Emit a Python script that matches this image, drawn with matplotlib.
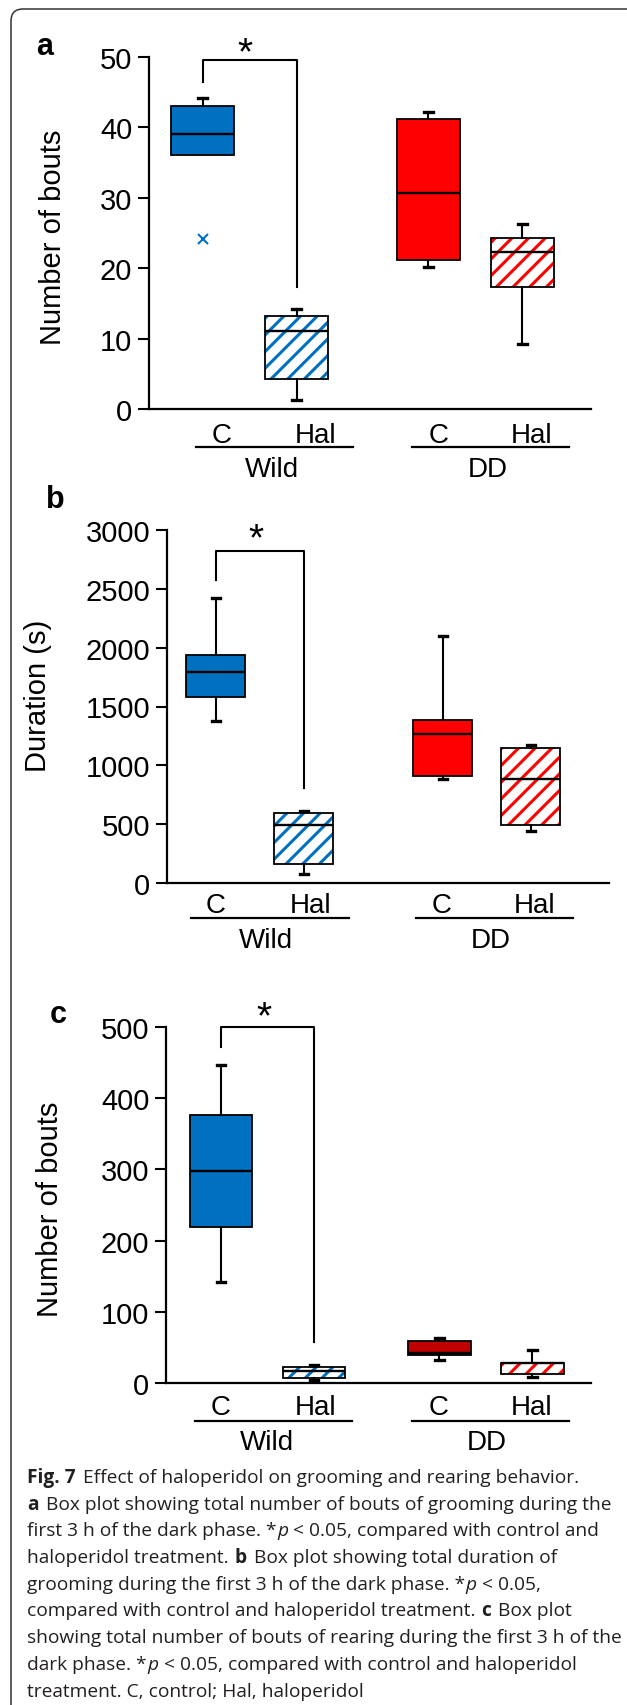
import matplotlib
matplotlib.use("Agg")
import matplotlib.pyplot as plt
from matplotlib.patches import PathPatch, FancyBboxPatch
from matplotlib.lines import Line2D
from matplotlib.transforms import IdentityTransform

# ---------------- data ----------------
groups = ["C", "Hal", "C", "Hal"]
strains = ["Wild", "DD"]

# panel a: number of grooming bouts
a_whislo = [36.1, 1.3, 20.2, 9.2]
a_q1 = [36.1, 4.2, 21.1, 17.3]
a_med = [39.0, 11.1, 30.6, 22.3]
a_q3 = [43.0, 13.2, 41.1, 24.3]
a_whishi = [44.1, 14.2, 42.1, 26.2]
a_fliers = [[24.1], [], [], []]

# panel b: grooming duration (s)
b_whislo = [1375, 76, 880, 442]
b_q1 = [1582, 161, 911, 495]
b_med = [1797, 490, 1268, 883]
b_q3 = [1936, 591, 1387, 1146]
b_whishi = [2425, 611, 2103, 1175]
b_fliers = [[], [], [], []]

# panel c: number of rearing bouts
c_whislo = [142, 4, 32, 8]
c_q1 = [219, 7, 39, 12.6]
c_med = [298, 17, 42, 28]
c_q3 = [377, 22.5, 59, 28]
c_whishi = [447, 25, 63, 46]
c_fliers = [[], [], [], []]

# significance brackets: (left leg bottom, top, right leg bottom)
a_bracket = [46.4, 49.6, 17.3]
b_bracket = [2578, 2819, 807]
c_bracket = [472, 500, 58]

BLUE = "#0070C0"
RED = "#FF0000"
DARKRED = "#C00000"

W, H = 627, 1706
plt.rcParams["font.family"] = ["Liberation Sans", "DejaVu Sans"]
plt.rcParams["hatch.linewidth"] = 2.2

fig = plt.figure(figsize=(W / 100, H / 100), dpi=100)


def fx(x):
    return x / W


def fy(y):
    return 1 - y / H


def make_panel(rect, pos, xlim, ylim, yticks, stats, colors, hatched,
               bracket, ylabel, ylabel_xy, ytick_fs=21):
    left, top, right, bottom = rect
    ax = fig.add_axes([fx(left), fy(bottom), (right - left) / W, (bottom - top) / H])
    whislo, q1, med, q3, whishi, fliers = stats
    st = []
    for i in range(len(pos)):
        st.append(dict(whislo=whislo[i], q1=q1[i], med=med[i], q3=q3[i],
                       whishi=whishi[i], fliers=fliers[i]))
    art = ax.bxp(st, positions=pos, widths=0.67, patch_artist=True,
                 showfliers=True, capwidths=0.09,
                 boxprops=dict(linewidth=1.3, edgecolor="black"),
                 whiskerprops=dict(linewidth=1.5, color="black"),
                 capprops=dict(linewidth=2.4, color="black"),
                 medianprops=dict(linewidth=1.7, color="black"),
                 flierprops=dict(marker="x", markersize=7, markeredgewidth=1.5))
    for i, b in enumerate(art["boxes"]):
        if hatched[i]:
            b.set_facecolor("white")
            b.set_edgecolor(colors[i])
            b.set_hatch("//")
            b.set_linewidth(0)
            ov = PathPatch(b.get_path(), facecolor="none", edgecolor="black",
                           linewidth=1.3, zorder=b.get_zorder() + 0.1)
            ax.add_patch(ov)
        else:
            b.set_facecolor(colors[i])
            b.set_edgecolor("black")
        # hide lower whisker/cap when it coincides with the box
        if whislo[i] >= q1[i]:
            art["caps"][2 * i].set_visible(False)
            art["whiskers"][2 * i].set_visible(False)
    for i, fl in enumerate(art["fliers"]):
        fl.set_markeredgecolor(colors[i])
    for m in art["medians"]:
        m.set_zorder(5)
    ax.set_xlim(*xlim)
    ax.set_ylim(*ylim)
    ax.set_yticks(yticks)
    ax.set_yticklabels([str(t) for t in yticks])
    ax.set_xticks([])
    for s in ["top", "right"]:
        ax.spines[s].set_visible(False)
    for s in ["left", "bottom"]:
        ax.spines[s].set_linewidth(1.6)
    ax.tick_params(axis="y", direction="out", length=8, width=1.5,
                   labelsize=ytick_fs, pad=4)
    ax.patch.set_alpha(0)
    # bracket
    xl, xr = pos[0], pos[1]
    ax.plot([xl, xl, xr, xr], [bracket[0], bracket[1], bracket[1], bracket[2]],
            color="black", lw=1.5, clip_on=False)
    ax.set_ylabel(ylabel, fontsize=21)
    ax.yaxis.set_label_coords(*ylabel_xy)
    return ax


ax_a = make_panel((149, 57.7, 591, 410), [1, 2, 3.4, 4.4], (0.43, 5.13), (0, 50),
                  [0, 10, 20, 30, 40, 50],
                  (a_whislo, a_q1, a_med, a_q3, a_whishi, a_fliers),
                  [BLUE, BLUE, RED, RED], [False, True, False, True],
                  a_bracket, "Number of bouts", ((67 - 149) / 442, 0.49))
ax_b = make_panel((167, 531, 609, 884), [1, 2, 3.58, 4.58], (0.448, 5.47), (0, 3000),
                  [0, 500, 1000, 1500, 2000, 2500, 3000],
                  (b_whislo, b_q1, b_med, b_q3, b_whishi, b_fliers),
                  [BLUE, BLUE, RED, RED], [False, True, False, True],
                  b_bracket, "Duration (s)", ((52 - 167) / 442, 0.533))
ax_c = make_panel((166, 1028, 591, 1384), [1, 2, 3.35, 4.35], (0.409, 4.98), (0, 500),
                  [0, 100, 200, 300, 400, 500],
                  (c_whislo, c_q1, c_med, c_q3, c_whishi, c_fliers),
                  [BLUE, BLUE, DARKRED, RED], [False, True, False, True],
                  c_bracket, "Number of bouts", ((64 - 166) / 425, 0.49))

# asterisks
for x, y in [(245, 54), (256, 540), (264, 1018)]:
    fig.text(fx(x), fy(y), "*", fontsize=28, ha="center", va="center")

# panel letters
for x, y, s in [(45, 47, "a"), (55, 500, "b"), (58, 1015, "c")]:
    fig.text(fx(x), fy(y), s, fontsize=22, fontweight="bold", ha="center", va="center")

# category labels and group lines
label_specs = [
    # cat xs, cat baseline, line y, line spans, strain xs, strain baseline
    ([222, 316, 439, 532], 443, 448, [(196, 353), (412, 569)], [272, 488], 477),
    ([216, 311, 442, 535], 913, 919, [(191, 349), (416, 573)], [266, 491], 948),
    ([221, 316, 439, 532], 1415, 1422, [(195, 352), (412, 569)], [267, 487], 1450),
]
for cxs, cy, ly, spans, sxs, sy in label_specs:
    for x, g in zip(cxs, groups):
        fig.text(fx(x), fy(cy), g, fontsize=20, ha="center", va="baseline")
    for (x0, x1) in spans:
        fig.add_artist(Line2D([fx(x0), fx(x1)], [fy(ly), fy(ly)], color="black", lw=1.6))
    for x, s in zip(sxs, strains):
        fig.text(fx(x), fy(sy), s, fontsize=20, ha="center", va="baseline")

# border
border = FancyBboxPatch((11, -30), 700, H - 10 + 30, boxstyle="round,pad=0,rounding_size=12",
                        transform=IdentityTransform(), facecolor="none",
                        edgecolor="#333333", linewidth=1.1)
fig.add_artist(border)

# caption
cap_lines = [
    [("Fig. 7", "bold", "normal"), (" Effect of haloperidol on grooming and rearing behavior.", "normal", "normal")],
    [("a", "bold", "normal"), (" Box plot showing total number of bouts of grooming during the", "normal", "normal")],
    [("first 3 h of the dark phase. *", "normal", "normal"), ("p", "normal", "italic"), (" < 0.05, compared with control and", "normal", "normal")],
    [("haloperidol treatment. ", "normal", "normal"), ("b", "bold", "normal"), (" Box plot showing total duration of", "normal", "normal")],
    [("grooming during the first 3 h of the dark phase. *", "normal", "normal"), ("p", "normal", "italic"), (" < 0.05,", "normal", "normal")],
    [("compared with control and haloperidol treatment. ", "normal", "normal"), ("c", "bold", "normal"), (" Box plot", "normal", "normal")],
    [("showing total number of bouts of rearing during the first 3 h of the", "normal", "normal")],
    [("dark phase. *", "normal", "normal"), ("p", "normal", "italic"), (" < 0.05, compared with control and haloperidol", "normal", "normal")],
    [("treatment. C, control; Hal, haloperidol", "normal", "normal")],
]
renderer = fig.canvas.get_renderer()
base0, dy = 1483, 26.7
for i, segs in enumerate(cap_lines):
    x = 27
    y = base0 + i * dy
    for txt, wt, sty in segs:
        t = fig.text(fx(x), fy(y), txt, fontsize=13.8, fontweight=wt, fontstyle=sty,
                     family=["Open Sans", "DejaVu Sans"], color="#231F20",
                     ha="left", va="baseline")
        bb = t.get_window_extent(renderer)
        x += bb.width + (2.5 if wt == "bold" else 0.5)

fig.savefig("out.png", dpi=100)
